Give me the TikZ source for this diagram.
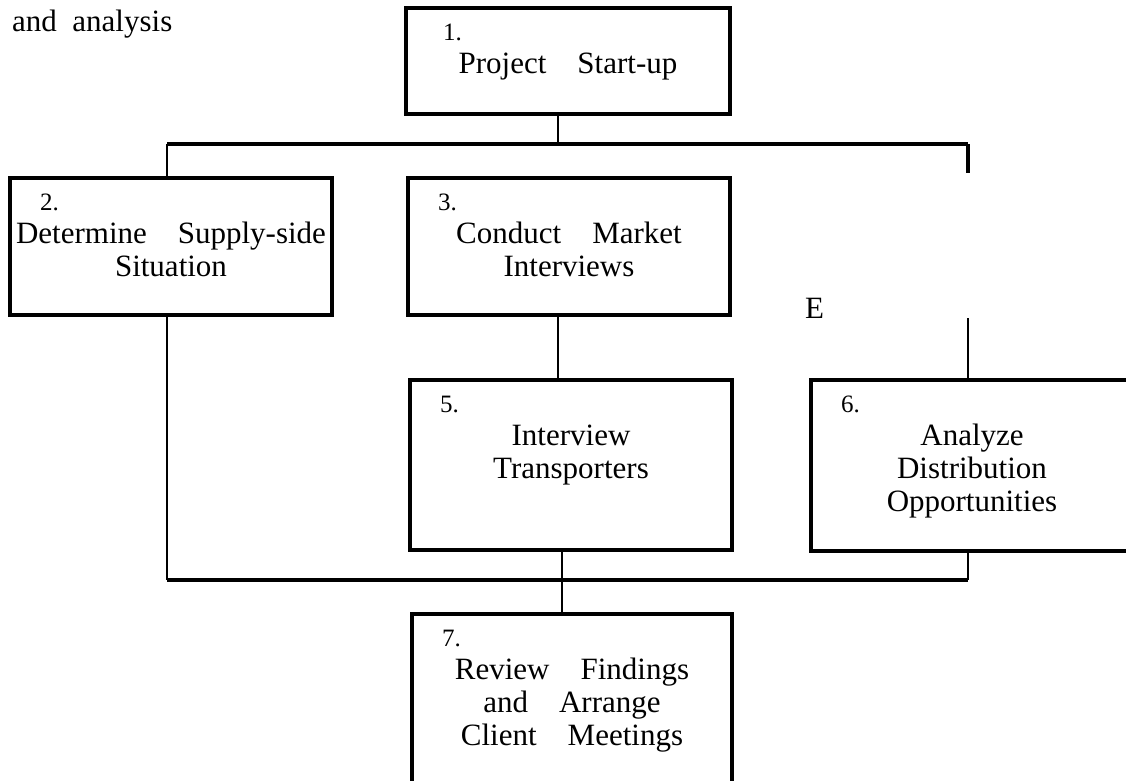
\documentclass[tikz,border=0pt]{standalone}
\usepackage{fontspec}
\setmainfont{Liberation Serif}
\usetikzlibrary{positioning}

% step number on the first line of a box, set flush left
\newcommand{\stepno}[2][30pt]{\makebox[\linewidth][l]{\hspace*{#1}\fontsize{25}{25}\selectfont #2}}

\begin{document}
\begin{tikzpicture}[
x=1pt, y=-1pt,
box/.style={draw, line width=4pt, inner sep=0pt, anchor=north west, align=center, text height=32pt, font=\fontsize{31}{33}\selectfont},
bus/.style={line width=4pt},
link/.style={line width=1.5pt},
lbl/.style={inner sep=0pt, anchor=base west, font=\fontsize{31}{33}\selectfont}
]
\useasboundingbox (0,0) rectangle (1126,780);

\node[lbl] (cap) at (12,31) {and~~analysis};

% steps
\node[box, text width=324pt, text depth=74pt] (start) at (404,6) {\stepno[37pt]{1.}\\Project~~~Start-up};
\node[box, text width=322pt, text depth=105pt] (supply) at (8,176) {\stepno{2.}\\Determine~~~Supply-side\\Situation};
\node[box, text width=322pt, text depth=105pt] (market) at (406,176) {\stepno{3.}\\Conduct~~~Market\\Interviews};
\node[box, text width=322pt, text depth=138pt] (trans) at (408,378) {\stepno{5.}\\Interview\\Transporters};
\node[box, text width=322pt, text depth=139pt] (distr) at (809,378) {\stepno{6.}\\Analyze\\Distribution\\Opportunities};
\node[box, text width=320pt, text depth=168pt] (review) at (410,612) {\stepno{7.}\\Review~~~Findings\\and~~~Arrange\\Client~~~Meetings};

\node[lbl] (e) at (805,318) {E};

% bus lines
\coordinate (tl) at (167,144);
\coordinate (tm) at (558,144);
\coordinate (tr) at (968,144);
\coordinate (rs) at (968,173);
\coordinate (rt) at (968,318);
\coordinate (bl) at (167,580);
\coordinate (bm) at (562,580);
\coordinate (br) at (968,580);

\draw[bus] (tl) -- (tr);
\draw[bus] (tr) -- (rs);
\draw[bus] (bl) -- (br);

% connectors
\draw[link] (start.south -| tm) -- (tm);
\draw[link] (tl) -- (supply.north -| tl);
\draw[link] (market.south -| tm) -- (trans.north -| tm);
\draw[link] (rt) -- (distr.north -| rt);
\draw[link] (supply.south -| bl) -- (bl);
\draw[link] (trans.south -| bm) -- (bm);
\draw[link] (distr.south -| br) -- (br);
\draw[link] (bm) -- (review.north -| bm);
\end{tikzpicture}
\end{document}
